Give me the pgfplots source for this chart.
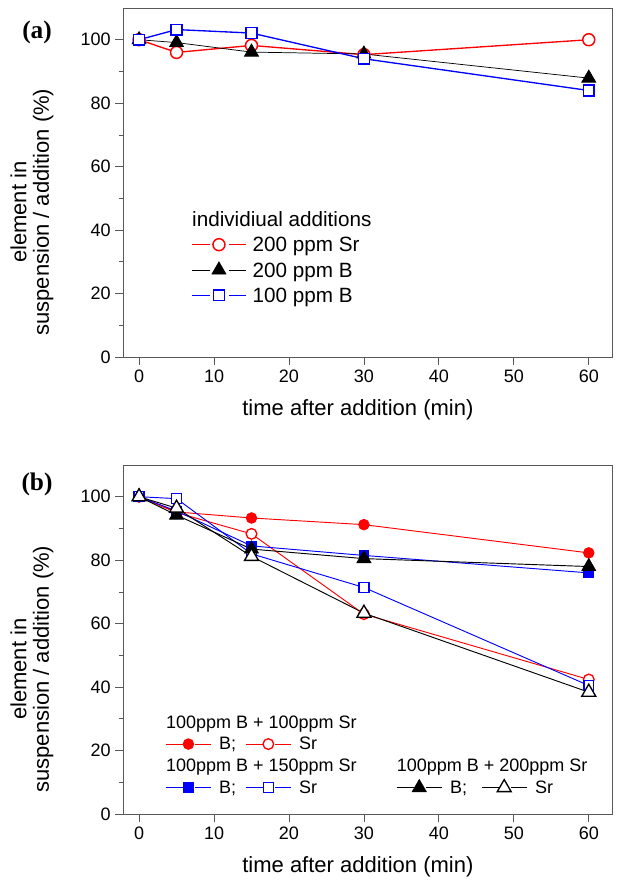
\documentclass[border=0pt]{standalone}
\usepackage{fontspec}
\setmainfont{Liberation Sans}
\newfontfamily\serifb{Liberation Serif}
\usepackage{pgfplots}
\pgfplotsset{compat=1.18}

% struts for legend rows
\newcommand\lsa{\rule[-4pt]{0pt}{16pt}}
\newcommand\lsb{\rule[-3.5pt]{0pt}{13.5pt}}

\pgfplotsset{
  panel/.style={
    scale only axis, width=366.5pt, height=261.75pt, anchor=north west,
    xmin=-2.1, xmax=63.1, ymin=0, ymax=110,
    xtick={0,10,...,60}, ytick={0,20,...,100}, minor y tick num=1,
    tick align=outside, xtick pos=bottom, ytick pos=left,
    major tick length=6pt, minor tick length=3pt,
    axis line style={black!65, line width=0.6pt},
    every tick/.style={black!65, line width=0.6pt},
    tick label style={font=\fontsize{13.5}{16}\selectfont},
    /pgf/number format/assume math mode=true,
    label style={font=\fontsize{16.5}{17}\selectfont},
    xlabel={time after addition (min)},
    ylabel={element in\\suspension / addition (\%)},
    ylabel style={align=center, anchor=center, at={(axis description cs:-0.187,0.415)}},
    xlabel style={anchor=center, at={(axis description cs:0.48,-0.152)}},
    clip=false,
  },
  legA/.style={legend image code/.code={
    \draw (0pt,0pt)--(13.5pt,0pt) (27.75pt,0pt)--(40.5pt,0pt);
    \draw plot coordinates {(20.25pt,0pt)};
    \path (0pt,0pt) (45pt,0pt);}},
  legB/.style={legend image code/.code={
    \draw (0pt,0pt)--(12.75pt,0pt) (22pt,0pt)--(33.75pt,0pt);
    \draw plot coordinates {(17pt,0pt)};
    \path (0pt,0pt) (39.75pt,0pt);}},
  headA/.style={legend image code/.code={
    \path (0pt,0pt) (45pt,0pt);
    \node[overlay,anchor=west,inner sep=0pt,font=\fontsize{15.5}{18}\selectfont] at (0pt,0pt) {\lsa #1};}},
  headB/.style={legend image code/.code={
    \path (0pt,0pt) (39.75pt,0pt);
    \node[overlay,anchor=west,inner sep=0pt,font=\fontsize{13.5}{16}\selectfont] at (0pt,0pt) {\lsb #1};}},
  rO/.style={red, line width=0.7pt, mark=*, mark size=4pt, mark options={solid, fill=white, line width=1pt}},
  rF/.style={red, line width=0.7pt, mark=*, mark size=4pt, mark options={solid, line width=0.6pt}},
  bO/.style={blue, line width=0.7pt, mark=square*, mark size=3.7pt, mark options={solid, fill=white, line width=1pt}},
  bF/.style={blue, line width=0.7pt, mark=square*, mark size=3.7pt, mark options={solid, line width=0.6pt}},
  kO/.style={black, line width=0.7pt, mark=triangle*, mark size=6pt, mark options={solid, fill=white, line width=1pt}},
  kF/.style={black, line width=0.7pt, mark=triangle*, mark size=6pt, mark options={solid, line width=0.6pt}},
}

\begin{document}
\begin{tikzpicture}
\path[use as bounding box] (0pt,0pt) rectangle (465.75pt,-663.75pt);

% panel (a)
\begin{axis}[panel, at={(92.5pt,-6pt)},
  legend style={at={(axis description cs:0.1385,0.421)}, anchor=north west,
    draw=none, fill=none, inner xsep=0pt, inner ysep=0pt, row sep=5.5pt,
    nodes={inner sep=0pt, font=\fontsize{15.5}{18}\selectfont}},
  legend cell align=left]
\addlegendimage{headA={individiual additions}}
\addlegendentry{\lsa}
\addplot[red, line width=1pt, mark=*, mark size=4.5pt, mark options={solid, fill=white, line width=1.1pt}, legA]
  coordinates {(0,100) (5,96) (15,98.2) (30,95.3) (60,100)};
\addlegendentry{\lsa 200 ppm Sr}
\addplot[black, line width=0.55pt, mark=triangle*, mark size=6pt, mark options={solid, line width=0.6pt}, legA]
  coordinates {(0,100) (5,99.1) (15,96.1) (30,95.5) (60,87.9)};
\addlegendentry{\lsa 200 ppm B}
\addplot[blue, line width=1pt, mark=square*, mark size=4pt, mark options={solid, fill=white, line width=1.1pt}, legA]
  coordinates {(0,100) (5,103.2) (15,102.1) (30,94) (60,84)};
\addlegendentry{\lsa 100 ppm B}
\node[font=\serifb\bfseries\fontsize{19}{22}\selectfont] at (axis description cs:-0.1766,0.931) {(a)};
\end{axis}

% panel (b)
\begin{axis}[panel, at={(92.5pt,-348.75pt)},
  legend columns=4,
  legend style={at={(axis description cs:0.0853,0.285)}, anchor=north west,
    draw=none, fill=none, inner xsep=0pt, inner ysep=0pt, row sep=4.7pt,
    nodes={inner sep=0pt, font=\fontsize{13.5}{16}\selectfont}},
  legend cell align=left]
\addplot[rF, forget plot] coordinates {(0,100) (5,95.2) (15,93.3) (30,91.2) (60,82.3)};
\addplot[rO, forget plot] coordinates {(0,100) (5,95) (15,88.3) (30,63) (60,42.4)};
\addplot[bF, forget plot] coordinates {(0,100) (5,95.5) (15,84.5) (30,81.5) (60,76)};
\addplot[bO, forget plot] coordinates {(0,100) (5,99.4) (15,82) (30,71.4) (60,40.5)};
\addplot[kF, forget plot] coordinates {(0,100) (5,94.2) (15,83.5) (30,80.5) (60,78)};
\addplot[kO, forget plot] coordinates {(0,100) (5,96.4) (15,81.2) (30,63.3) (60,38.4)};

\addlegendimage{headB={100ppm B + 100ppm Sr}}\addlegendentry{\lsb}
\addlegendimage{empty legend}\addlegendentry{}
\addlegendimage{empty legend}\addlegendentry{}
\addlegendimage{empty legend}\addlegendentry{}
\addlegendimage{rF, legB}\addlegendentry{\lsb\makebox[19.5pt][l]{B;}}
\addlegendimage{rO, legB}\addlegendentry{\lsb\makebox[72.75pt][l]{Sr}}
\addlegendimage{empty legend}\addlegendentry{}
\addlegendimage{empty legend}\addlegendentry{}
\addlegendimage{headB={100ppm B + 150ppm Sr}}\addlegendentry{\lsb}
\addlegendimage{empty legend}\addlegendentry{}
\addlegendimage{headB={100ppm B + 200ppm Sr}}\addlegendentry{\lsb}
\addlegendimage{empty legend}\addlegendentry{}
\addlegendimage{bF, legB}\addlegendentry{\lsb\makebox[19.5pt][l]{B;}}
\addlegendimage{bO, legB}\addlegendentry{\lsb\makebox[72.75pt][l]{Sr}}
\addlegendimage{kF, legB}\addlegendentry{\lsb\makebox[23.25pt][l]{B;}}
\addlegendimage{kO, legB}\addlegendentry{\lsb Sr}
\node[font=\serifb\bfseries\fontsize{19}{22}\selectfont] at (axis description cs:-0.1766,0.943) {(b)};
\end{axis}
\end{tikzpicture}
\end{document}
